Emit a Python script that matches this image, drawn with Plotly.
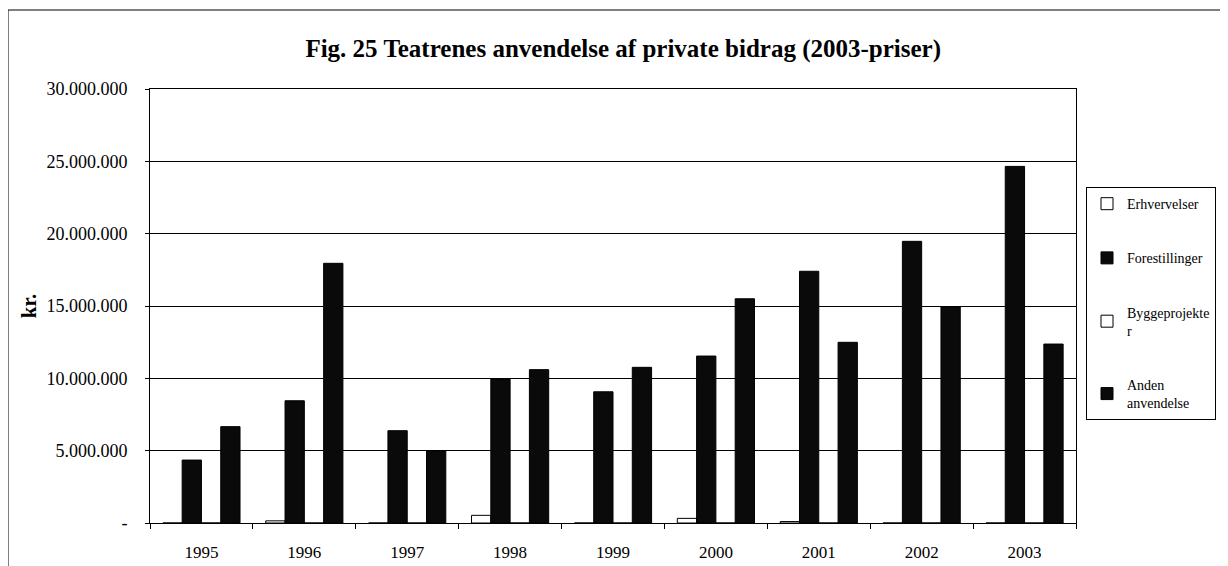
import plotly.graph_objects as go

years = ["1995", "1996", "1997", "1998", "1999", "2000", "2001", "2002", "2003"]
erhvervelser = [0, 150000, 0, 530000, 0, 320000, 100000, 0, 0]
forestillinger = [4350000, 8450000, 6380000, 9950000, 9070000, 11540000, 17400000, 19470000, 24650000]
byggeprojekter = [0, 0, 0, 0, 0, 0, 0, 0, 0]
anden = [6660000, 17950000, 4980000, 10600000, 10760000, 15500000, 12490000, 14950000, 12370000]

series = [
    ("Erhvervelser", erhvervelser, "white"),
    ("Forestillinger", forestillinger, "#0a0a0a"),
    ("Byggeprojekte<br>r", byggeprojekter, "white"),
    ("Anden<br>anvendelse", anden, "#0a0a0a"),
]

ytick_vals = [0, 5000000, 10000000, 15000000, 20000000, 25000000, 30000000]
ytick_text = ["-", "5.000.000", "10.000.000", "15.000.000", "20.000.000", "25.000.000", "30.000.000"]

fig = go.Figure()
for i, (name, vals, col) in enumerate(series):
    fig.add_trace(go.Bar(
        x=years, y=vals, name=name, legendgroup=f"g{i}",
        marker=dict(color=col, line=dict(color="black", width=1)),
    ))

serif = "Liberation Serif"
fig.update_layout(
    width=1220, height=558,
    paper_bgcolor="white", plot_bgcolor="white",
    margin=dict(l=142, r=152, t=81, b=43, autoexpand=False),
    barmode="group", bargap=0.25, bargroupgap=0,
    font=dict(family=serif, color="black", size=17),
    title=dict(text="<b>Fig. 25 Teatrenes anvendelse af private bidrag (2003-priser)</b>",
               xref="paper", x=0.511, xanchor="center", y=0.928, yanchor="middle",
               font=dict(family=serif, size=25, color="black")),
    legend=dict(x=1.0108, y=0.774, xanchor="left", yanchor="top",
                bordercolor="black", borderwidth=1, bgcolor="white",
                font=dict(family=serif, size=14, color="black"),
                tracegroupgap=33, itemwidth=30, traceorder="grouped"),
    showlegend=True,
)
fig.update_xaxes(
    showline=True, linecolor="black", linewidth=1, mirror=True,
    ticks="outside", tickson="boundaries", ticklen=5, tickcolor="black",
    tickfont=dict(family=serif, size=17, color="black"),
    ticklabelstandoff=14,
    showgrid=False,
)
fig.update_yaxes(
    range=[0, 30000000], tickvals=ytick_vals, ticktext=ytick_text,
    showline=True, linecolor="black", linewidth=1, mirror=True,
    ticks="outside", ticklen=4, tickcolor="black",
    showgrid=True, gridcolor="black", gridwidth=1,
    tickfont=dict(family=serif, size=18, color="black"),
    ticklabelstandoff=14,
    title=dict(text="<b>kr.</b>", font=dict(family=serif, size=21, color="black"), standoff=4),
    zeroline=False,
)
# outer chart frame
fig.add_shape(type="rect", xref="paper", yref="paper",
              x0=-142 / 926, x1=(1230 - 142) / 926,
              y0=(515 - 600) / 434, y1=(515 - 2) / 434,
              line=dict(color="black", width=1), fillcolor="rgba(0,0,0,0)", layer="below")

fig.write_html("out.html")
